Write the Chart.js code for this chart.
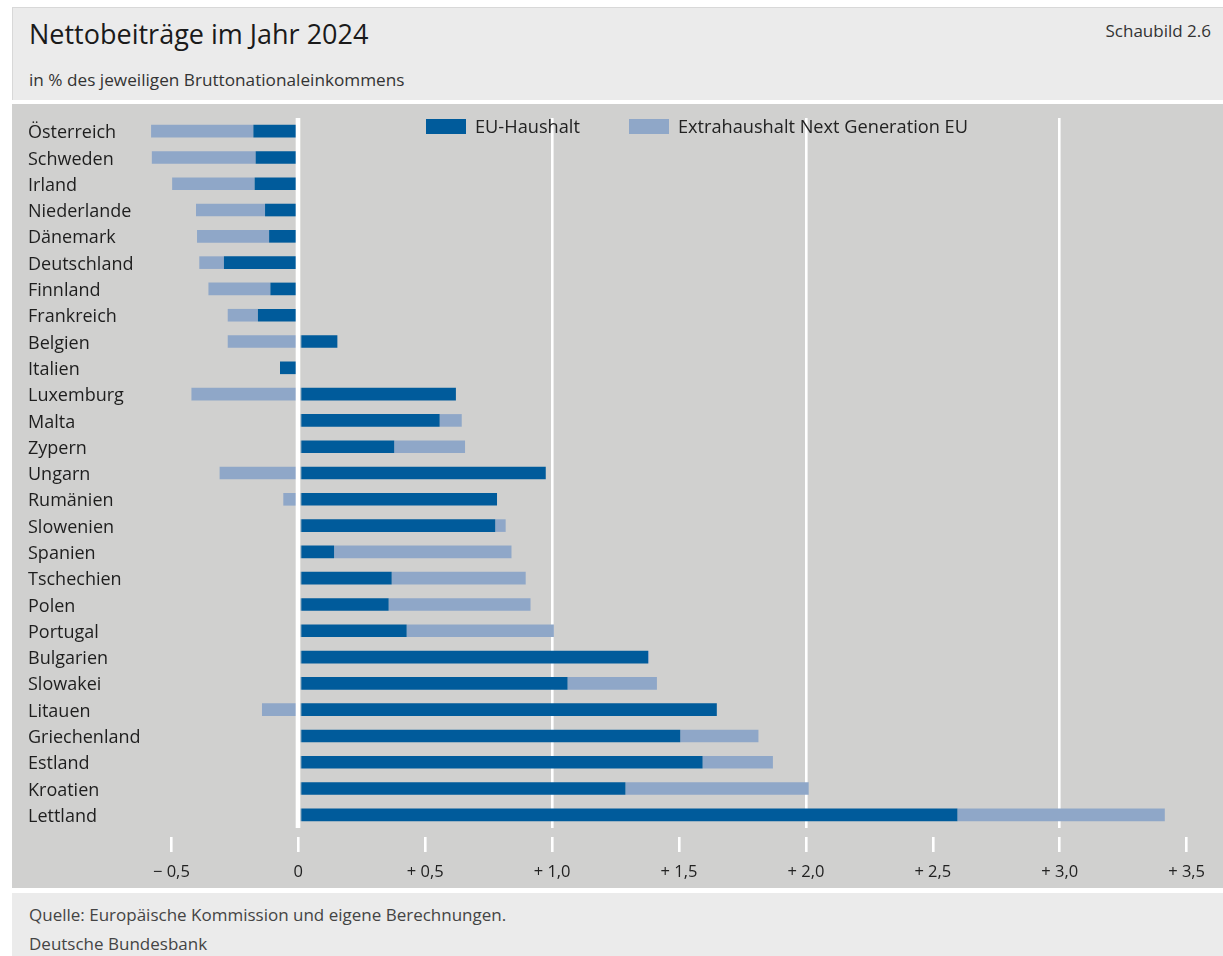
<!DOCTYPE html>
<html lang="de">
<head>
<meta charset="utf-8">
<title>Nettobeiträge im Jahr 2024</title>
<script src="https://cdn.jsdelivr.net/npm/chart.js@4.4.1/dist/chart.umd.min.js"></script>
<style>
  html, body { margin: 0; padding: 0; background: #fff; }
  body { width: 1223px; height: 956px; position: relative; overflow: hidden; font-family: "Open Sans", sans-serif; color: #222; }
  .box { position: absolute; left: 12px; width: 1211px; background: #ebebeb; }
  #header { top: 7px; height: 93px; border-top: 1px solid #d8d8d8; border-left: 1px solid #d8d8d8; box-sizing: border-box; }
  #footer { top: 893px; height: 63px; }
  #plot { position: absolute; left: 12px; top: 104px; width: 1211px; height: 784px; background: #d0d0cf; }
  .txt { position: absolute; white-space: nowrap; line-height: 20px; font-size: 17px; }
  #title { left: 29px; top: 19px; font-size: 27px; line-height: 30px; color: #1a1a1a; }
  #subtitle { left: 29px; top: 70px; font-size: 17.2px; color: #333; }
  #figno { right: 12px; top: 21px; color: #333; }
  #source { left: 29px; top: 905px; color: #444; }
  #publisher { left: 29px; top: 934px; color: #444; }
  #legend { position: absolute; left: 414px; top: 12px; display: flex; font-size: 18.2px; line-height: 20px; color: #222; }
  #legend .item { display: flex; align-items: center; margin-right: 49px; }
  #legend .swatch { width: 40px; height: 15px; margin-right: 9px; }
</style>
</head>
<body>
<div class="box" id="header"></div>
<div class="txt" id="title">Nettobeiträge im Jahr 2024</div>
<div class="txt" id="subtitle">in % des jeweiligen Bruttonationaleinkommens</div>
<div class="txt" id="figno">Schaubild 2.6</div>
<div id="plot">
  <canvas id="chart"></canvas>
  <div id="legend"></div>
</div>
<div class="box" id="footer"></div>
<div class="txt" id="source">Quelle: Europäische Kommission und eigene Berechnungen.</div>
<div class="txt" id="publisher">Deutsche Bundesbank</div>

<script>
// categories, top to bottom
const countries = ['Österreich', 'Schweden', 'Irland', 'Niederlande', 'Dänemark', 'Deutschland', 'Finnland',
  'Frankreich', 'Belgien', 'Italien', 'Luxemburg', 'Malta', 'Zypern', 'Ungarn', 'Rumänien', 'Slowenien',
  'Spanien', 'Tschechien', 'Polen', 'Portugal', 'Bulgarien', 'Slowakei', 'Litauen', 'Griechenland',
  'Estland', 'Kroatien', 'Lettland'];

// net contributions in % of GNI
const euBudget = [-0.177, -0.168, -0.172, -0.131, -0.115, -0.293, -0.110, -0.159, 0.154, -0.072, 0.621, 0.557,
  0.378, 0.975, 0.783, 0.776, 0.141, 0.368, 0.356, 0.427, 1.378, 1.061, 1.649, 1.505, 1.593, 1.289, 2.597];
const nextGenEu = [-0.403, -0.409, -0.325, -0.272, -0.284, -0.097, -0.244, -0.119, -0.278, 0, -0.421, 0.087,
  0.279, -0.310, -0.059, 0.041, 0.699, 0.528, 0.559, 0.580, 0.004, 0.352, -0.143, 0.308, 0.277, 0.722, 0.817];

const seriesNames = ['EU-Haushalt', 'Extrahaushalt Next Generation EU'];
const tickValues = [-0.5, 0, 0.5, 1, 1.5, 2, 2.5, 3, 3.5];
const tickLabels = ['− 0,5', '0', '+ 0,5', '+ 1,0', '+ 1,5', '+ 2,0', '+ 2,5', '+ 3,0', '+ 3,5'];
const gridValues = [1, 2, 3];

const darkBlue = '#005b9b';
const lightBlue = '#8fa7c8';
const plotBg = '#d0d0cf';
const fontFamily = '"Open Sans", sans-serif';

// white zero line drawn on top of the bars, with a small gap to the positive bars
const zeroLine = {
  id: 'zeroLine',
  afterDatasetsDraw(chart) {
    const { ctx, chartArea, scales } = chart;
    const x0 = scales.x.getPixelForValue(0);
    const h = chartArea.bottom - chartArea.top;
    ctx.save();
    ctx.fillStyle = plotBg;
    ctx.fillRect(x0 + 2, chartArea.top, 1, h);
    ctx.fillStyle = '#fff';
    ctx.fillRect(x0 - 2.6, chartArea.top, 4.6, h);
    ctx.restore();
  }
};

const chart = new Chart(document.getElementById('chart'), {
  type: 'bar',
  data: {
    labels: countries,
    datasets: [
      { label: seriesNames[0], data: euBudget, backgroundColor: darkBlue, barPercentage: 0.48, categoryPercentage: 1 },
      { label: seriesNames[1], data: nextGenEu, backgroundColor: lightBlue, barPercentage: 0.48, categoryPercentage: 1 }
    ]
  },
  options: {
    indexAxis: 'y',
    responsive: true,
    maintainAspectRatio: false,
    animation: false,
    layout: { padding: { left: 16, right: 11, top: 14, bottom: 0 } },
    plugins: {
      legend: { display: false },
      tooltip: { enabled: false }
    },
    scales: {
      x: {
        stacked: true,
        min: -0.6,
        max: 3.6,
        afterBuildTicks: (scale) => { scale.ticks = tickValues.map(v => ({ value: v })); },
        afterFit: (scale) => { scale.height = 60; },
        border: { display: false },
        grid: {
          color: (c) => (c.tick && gridValues.includes(c.tick.value)) ? '#fff' : 'rgba(0,0,0,0)',
          lineWidth: 2.6,
          drawTicks: true,
          tickLength: 24,
          tickColor: '#fff',
          tickWidth: 2.6,
          tickBorderDash: [0, 9, 15, 60]
        },
        ticks: {
          callback: (v, i) => tickLabels[i],
          color: '#222',
          padding: 10,
          maxRotation: 0,
          autoSkip: false,
          font: { family: fontFamily, size: 16.5 }
        }
      },
      y: {
        stacked: true,
        afterFit: (scale) => { scale.width = 118; },
        border: { display: false },
        grid: { display: false },
        ticks: {
          crossAlign: 'far',
          autoSkip: false,
          labelOffset: 2,
          color: '#1e1e1e',
          font: { family: fontFamily, size: 18, lineHeight: 1.0 }
        }
      }
    }
  },
  plugins: [zeroLine]
});

// legend built from the chart's datasets
const legendEl = document.getElementById('legend');
chart.data.datasets.forEach(ds => {
  const item = document.createElement('div');
  item.className = 'item';
  const sw = document.createElement('span');
  sw.className = 'swatch';
  sw.style.background = ds.backgroundColor;
  const label = document.createElement('span');
  label.textContent = ds.label;
  item.appendChild(sw);
  item.appendChild(label);
  legendEl.appendChild(item);
});
</script>
</body>
</html>
